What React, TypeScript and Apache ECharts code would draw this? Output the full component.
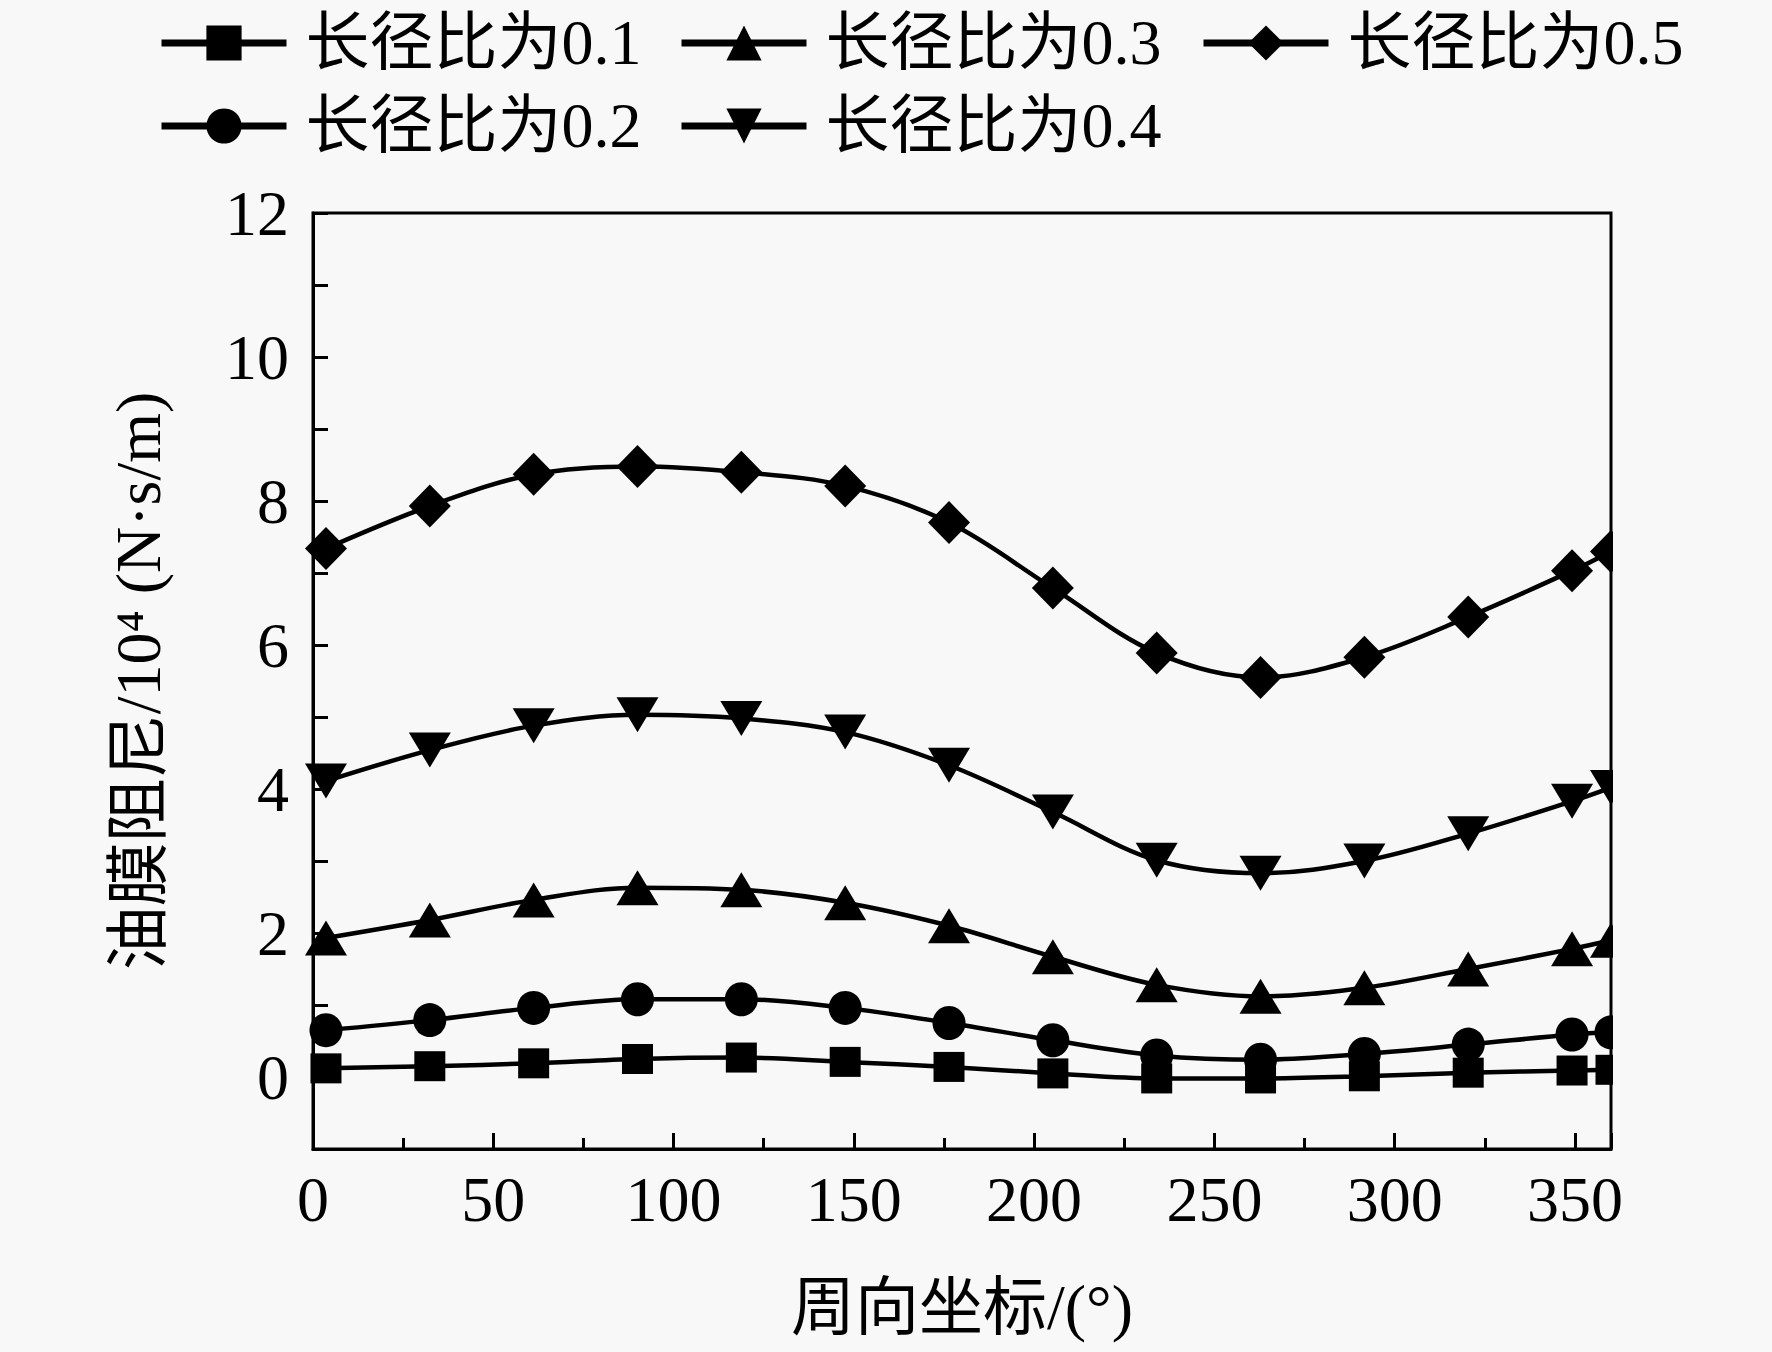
import React, { useEffect, useRef } from 'react';
import * as echarts from 'echarts';

// circumferential coordinate (deg)
const xDeg = [3.6, 32.4, 61.2, 90, 118.8, 147.6, 176.4, 205.2, 234, 262.8, 291.6, 320.4, 349.2, 360];

const seriesNames = ['长径比为0.1', '长径比为0.2', '长径比为0.3', '长径比为0.4', '长径比为0.5'];

const r01 = [0.12, 0.15, 0.19, 0.25, 0.27, 0.21, 0.14, 0.05, -0.02, -0.02, 0.01, 0.06, 0.09, 0.10];
const r02 = [0.65, 0.79, 0.96, 1.08, 1.08, 0.96, 0.75, 0.51, 0.30, 0.24, 0.32, 0.45, 0.59, 0.62];
const r03 = [1.93, 2.18, 2.46, 2.63, 2.60, 2.42, 2.10, 1.67, 1.28, 1.12, 1.24, 1.50, 1.78, 1.90];
const r04 = [4.11, 4.54, 4.88, 5.03, 4.98, 4.79, 4.33, 3.68, 3.01, 2.83, 3.00, 3.38, 3.83, 4.02];
const r05 = [7.34, 7.93, 8.37, 8.48, 8.40, 8.21, 7.70, 6.79, 5.89, 5.55, 5.83, 6.39, 7.03, 7.30];

const seriesValues = [r01, r02, r03, r04, r05];
const symbols = ['rect', 'circle', 'triangle', 'triangle', 'diamond'];
const symbolRotates = [0, 0, 0, 180, 0];
const symbolSizes: any[] = [[31, 30], [33, 34], [42, 35], [42, 35], [42, 43]];

const xTitle = '周向坐标/(°)';
const yTitle = '油膜阻尼/10⁴ (N·s/m)';

const FONT = "'Liberation Serif', 'Times New Roman', 'Noto Sans CJK SC', serif";
const BG = '#f8f8f8';

export default function App() {
  const ref = useRef<HTMLDivElement>(null);

  useEffect(() => {
    const chart = echarts.init(ref.current!, null, { renderer: 'svg' });

    const legendCommon = {
      orient: 'horizontal',
      padding: 0,
      itemWidth: 125,
      itemHeight: 44,
      textStyle: { fontFamily: FONT, fontSize: 64, color: '#000', padding: [0, 0, 0, 14] },
      lineStyle: { width: 7, color: '#000' },
      selectedMode: false,
    };

    const legendPos = [
      { left: 158, top: 11 },
      { left: 158, top: 94 },
      { left: 678, top: 11 },
      { left: 678, top: 94 },
      { left: 1200, top: 11 },
    ];

    const option: any = {
      animation: false,
      backgroundColor: BG,
      textStyle: { fontFamily: FONT },
      legend: seriesNames.map((n, i) => ({ ...legendCommon, ...legendPos[i], data: [n] })),
      grid: {
        left: 313,
        right: 161,
        top: 213,
        bottom: 203,
        show: true,
        borderColor: '#000',
        borderWidth: 3,
        backgroundColor: 'transparent',
      },
      xAxis: {
        type: 'value',
        min: 0,
        max: 360,
        interval: 50,
        name: xTitle,
        nameLocation: 'middle',
        nameGap: 126,
        nameTextStyle: { fontFamily: FONT, fontSize: 64, color: '#000' },
        axisLine: { show: true, onZero: false, lineStyle: { color: '#000', width: 3 } },
        axisTick: { show: true, inside: true, length: 16, lineStyle: { color: '#000', width: 3 } },
        minorTick: { show: true, splitNumber: 2, length: 11, lineStyle: { color: '#000', width: 3 } },
        axisLabel: { fontFamily: FONT, fontSize: 64, color: '#000', margin: 18, showMaxLabel: false },
        splitLine: { show: false },
      },
      yAxis: {
        type: 'value',
        min: -1,
        max: 12,
        interval: 1,
        name: yTitle,
        nameLocation: 'middle',
        nameRotate: 90,
        nameGap: 143,
        nameTextStyle: { fontFamily: FONT, fontSize: 64, color: '#000' },
        axisLine: { show: true, onZero: false, lineStyle: { color: '#000', width: 3 } },
        axisTick: { show: true, inside: true, length: 15, lineStyle: { color: '#000', width: 3 } },
        axisLabel: {
          fontFamily: FONT,
          fontSize: 64,
          color: '#000',
          margin: 24,
          formatter: (v: number) => (v >= 0 && v % 2 === 0 ? String(v) : ''),
        },
        splitLine: { show: false },
      },
      graphic: [
        {
          type: 'rect',
          shape: { x: 1613, y: 190, width: 80, height: 970 },
          style: { fill: BG },
          z: 100,
          silent: true,
        },
      ],
      series: seriesNames.map((n, i) => ({
        name: n,
        type: 'line',
        data: xDeg.map((x, j) => [x, seriesValues[i][j]]),
        smooth: 0.35,
        symbol: symbols[i],
        symbolSize: symbolSizes[i],
        symbolRotate: symbolRotates[i],
        showAllSymbol: true,
        clip: true,
        lineStyle: { color: '#000', width: 4.5 },
        itemStyle: { color: '#000' },
      })),
    };

    chart.setOption(option);
    return () => chart.dispose();
  }, []);

  return (
    <div
      ref={ref}
      style={{ position: 'fixed', left: 0, top: 0, width: 1772, height: 1352, background: BG }}
    />
  );
}
